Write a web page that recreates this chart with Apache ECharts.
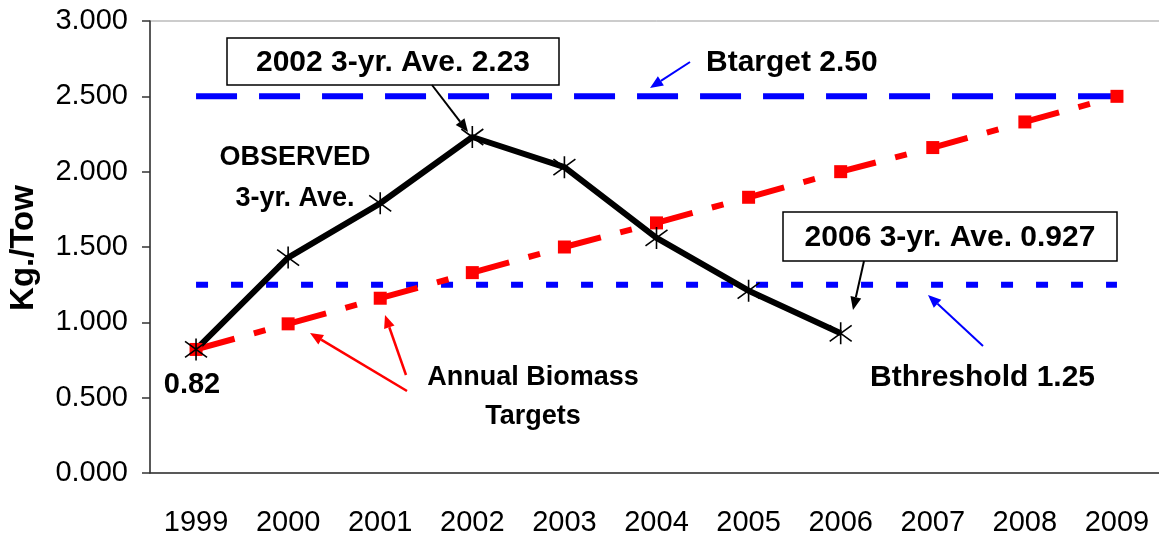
<!DOCTYPE html>
<html>
<head>
<meta charset="utf-8">
<script src="https://cdn.jsdelivr.net/npm/echarts@6/dist/echarts.min.js"></script>
<style>
  html, body { margin: 0; padding: 0; background: #fff; overflow: hidden; }
  /* plot runs a few px past the right edge of the window, like the original */
  #chart { width: 1163px; height: 540px; }
</style>
</head>
<body>
<div id="chart"></div>
<script>
// years on the x axis
var years = ["1999", "2000", "2001", "2002", "2003", "2004", "2005", "2006", "2007", "2008", "2009"];
// observed 3-yr average (kg/tow)
var observed = [0.82, 1.43, 1.79, 2.23, 2.03, 1.56, 1.21, 0.927, null, null, null];
// annual biomass targets
var annualTargets = [0.82, 0.99, 1.16, 1.33, 1.50, 1.66, 1.83, 2.00, 2.16, 2.33, 2.50];
// reference levels
var bTarget = [2.5, 2.5, 2.5, 2.5, 2.5, 2.5, 2.5, 2.5, 2.5, 2.5, 2.5];
var bThreshold = [1.25, 1.25, 1.25, 1.25, 1.25, 1.25, 1.25, 1.25, 1.25, 1.25, 1.25];
// y axis ticks
var yMin = 0, yMax = 3, yStep = 0.5;

var font = "'Liberation Sans', Arial, sans-serif";
var asterisk = "path://M11,0L11,22M0,3L22,19M0,19L22,3";

function arrow(x1, y1, x2, y2, color, w) {
  var a = Math.atan2(y2 - y1, x2 - x1);
  var L = 13, W = 5.5;
  var bx = x2 - L * Math.cos(a), by = y2 - L * Math.sin(a);
  return [
    { type: "line", z: 100, shape: { x1: x1, y1: y1, x2: bx, y2: by }, style: { stroke: color, lineWidth: w } },
    {
      type: "polygon", z: 100,
      shape: { points: [[x2, y2], [bx + W * Math.sin(a), by - W * Math.cos(a)], [bx - W * Math.sin(a), by + W * Math.cos(a)]] },
      style: { fill: color }
    }
  ];
}

function label(text, x, y, size, align) {
  return {
    type: "text", z: 101, x: x, y: y,
    style: {
      text: text, fill: "#000", font: "bold " + size + "px " + font,
      textAlign: align || "center", textVerticalAlign: "middle"
    }
  };
}

function box(text, x, y, w, h) {
  return [
    { type: "rect", z: 100, shape: { x: x, y: y, width: w, height: h }, style: { fill: "#fff", stroke: "#000", lineWidth: 1.5 } },
    label(text, x + w / 2, y + h / 2 + 1, 30)
  ];
}

var graphics = []
  .concat(box("2002 3-yr. Ave. 2.23", 227, 38, 332, 47))
  .concat(box("2006 3-yr. Ave. 0.927", 783, 212, 334, 49))
  .concat(arrow(432, 85, 468, 132, "#000", 2))
  .concat(arrow(864, 261, 853, 310, "#000", 2))
  .concat(arrow(690, 62, 650, 88, "#0000FF", 2))
  .concat(arrow(983, 346, 928, 295, "#0000FF", 2))
  .concat(arrow(407, 391, 310, 333, "#FF0000", 2.5))
  .concat(arrow(406, 375, 385, 315, "#FF0000", 2.5))
  .concat([
    label("OBSERVED", 295, 158, 27),
    label("3-yr. Ave.", 295, 199, 27),
    label("0.82", 192, 385, 29),
    label("Annual Biomass", 533, 378, 27),
    label("Targets", 533, 417, 27),
    label("Btarget 2.50", 706, 63, 30, "left"),
    label("Bthreshold 1.25", 870, 378, 30, "left"),
    {
      type: "text", z: 101, x: 24, y: 248, rotation: Math.PI / 2,
      style: { text: "Kg./Tow", fill: "#000", font: "bold 33px " + font, textAlign: "center", textVerticalAlign: "middle" }
    }
  ]);

var chart = echarts.init(document.getElementById("chart"));
var option = {
  animation: false,
  backgroundColor: "#fff",
  grid: { left: 150, right: 0, top: 21, bottom: 67, show: true, borderColor: "#999", borderWidth: 1 },
  xAxis: {
    type: "category",
    data: years,
    boundaryGap: true,
    axisLine: { lineStyle: { color: "#333", width: 1.5 } },
    axisTick: { length: 10, lineStyle: { color: "#333", width: 1.5 } },
    axisLabel: { color: "#000", fontSize: 29, fontFamily: font, margin: 35, interval: 0 }
  },
  yAxis: {
    type: "value",
    min: yMin, max: yMax, interval: yStep,
    axisLine: { show: true, lineStyle: { color: "#333", width: 1.5 } },
    axisTick: { show: true, length: 8, lineStyle: { color: "#333", width: 1.5 } },
    splitLine: { show: false },
    axisLabel: {
      color: "#000", fontSize: 29, fontFamily: font, margin: 22,
      formatter: function (v) { return v.toFixed(3); }
    }
  },
  series: [
    {
      name: "Btarget", type: "line", data: bTarget, symbol: "none", silent: true,
      lineStyle: { color: "#0000FF", width: 6, type: [41, 22] }
    },
    {
      name: "Bthreshold", type: "line", data: bThreshold, symbol: "none", silent: true,
      lineStyle: { color: "#0000FF", width: 6, type: [12, 23] }
    },
    {
      name: "Annual Biomass Targets", type: "line", data: annualTargets,
      symbol: "rect", symbolSize: 13,
      itemStyle: { color: "#FF0000" },
      lineStyle: { color: "#FF0000", width: 6, type: [40, 20, 12, 23] }
    },
    {
      name: "Observed 3-yr. Ave.", type: "line", data: observed,
      symbol: asterisk, symbolSize: 22, showAllSymbol: true,
      itemStyle: { color: "rgba(0,0,0,0)", borderColor: "#000", borderWidth: 1.6 },
      lineStyle: { color: "#000", width: 6 }
    }
  ],
  graphic: graphics
};
chart.setOption(option);
</script>
</body>
</html>
